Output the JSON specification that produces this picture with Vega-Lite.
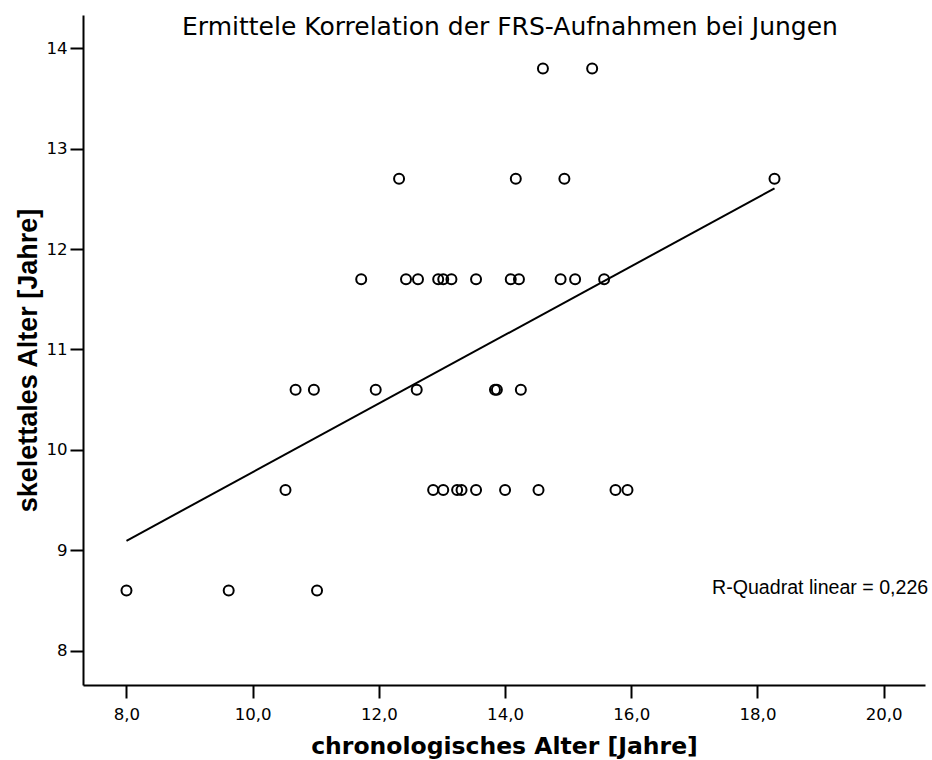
{
  "$schema": "https://vega.github.io/schema/vega-lite/v6.json",
  "autosize": "none",
  "width": 842,
  "height": 670,
  "padding": {"left": 83, "top": 15, "right": 7, "bottom": 75},
  "background": "white",
  "title": {
    "text": "Ermittele Korrelation der FRS-Aufnahmen bei Jungen",
    "font": "DejaVu Sans",
    "fontSize": 25,
    "fontWeight": "normal",
    "color": "black",
    "anchor": "middle",
    "offset": -25,
    "dx": 6
  },
  "data": {
    "values": [
      {"chronologisches_Alter": 14.60, "skelettales_Alter": 13.8},
      {"chronologisches_Alter": 15.38, "skelettales_Alter": 13.8},
      {"chronologisches_Alter": 12.32, "skelettales_Alter": 12.7},
      {"chronologisches_Alter": 14.17, "skelettales_Alter": 12.7},
      {"chronologisches_Alter": 14.94, "skelettales_Alter": 12.7},
      {"chronologisches_Alter": 18.27, "skelettales_Alter": 12.7},
      {"chronologisches_Alter": 11.72, "skelettales_Alter": 11.7},
      {"chronologisches_Alter": 12.43, "skelettales_Alter": 11.7},
      {"chronologisches_Alter": 12.62, "skelettales_Alter": 11.7},
      {"chronologisches_Alter": 12.94, "skelettales_Alter": 11.7},
      {"chronologisches_Alter": 13.02, "skelettales_Alter": 11.7},
      {"chronologisches_Alter": 13.15, "skelettales_Alter": 11.7},
      {"chronologisches_Alter": 13.54, "skelettales_Alter": 11.7},
      {"chronologisches_Alter": 14.09, "skelettales_Alter": 11.7},
      {"chronologisches_Alter": 14.22, "skelettales_Alter": 11.7},
      {"chronologisches_Alter": 14.88, "skelettales_Alter": 11.7},
      {"chronologisches_Alter": 15.11, "skelettales_Alter": 11.7},
      {"chronologisches_Alter": 15.57, "skelettales_Alter": 11.7},
      {"chronologisches_Alter": 10.68, "skelettales_Alter": 10.6},
      {"chronologisches_Alter": 10.97, "skelettales_Alter": 10.6},
      {"chronologisches_Alter": 11.95, "skelettales_Alter": 10.6},
      {"chronologisches_Alter": 12.60, "skelettales_Alter": 10.6},
      {"chronologisches_Alter": 13.84, "skelettales_Alter": 10.6},
      {"chronologisches_Alter": 13.87, "skelettales_Alter": 10.6},
      {"chronologisches_Alter": 14.25, "skelettales_Alter": 10.6},
      {"chronologisches_Alter": 10.52, "skelettales_Alter": 9.6},
      {"chronologisches_Alter": 12.86, "skelettales_Alter": 9.6},
      {"chronologisches_Alter": 13.02, "skelettales_Alter": 9.6},
      {"chronologisches_Alter": 13.24, "skelettales_Alter": 9.6},
      {"chronologisches_Alter": 13.31, "skelettales_Alter": 9.6},
      {"chronologisches_Alter": 13.54, "skelettales_Alter": 9.6},
      {"chronologisches_Alter": 14.00, "skelettales_Alter": 9.6},
      {"chronologisches_Alter": 14.53, "skelettales_Alter": 9.6},
      {"chronologisches_Alter": 15.75, "skelettales_Alter": 9.6},
      {"chronologisches_Alter": 15.94, "skelettales_Alter": 9.6},
      {"chronologisches_Alter": 8.00, "skelettales_Alter": 8.6},
      {"chronologisches_Alter": 9.62, "skelettales_Alter": 8.6},
      {"chronologisches_Alter": 11.02, "skelettales_Alter": 8.6}
    ]
  },
  "layer": [
    {
      "mark": {"type": "point", "shape": "circle", "filled": false, "size": 100, "stroke": "black", "strokeWidth": 2, "opacity": 1},
      "encoding": {
        "x": {
          "field": "chronologisches_Alter",
          "type": "quantitative",
          "scale": {"domain": [7.311, 20.655], "nice": false, "zero": false},
          "axis": {
            "title": "chronologisches Alter [Jahre]",
            "values": [8, 10, 12, 14, 16, 18, 20],
            "labelExpr": "replace(format(datum.value, '.1f'), '.', ',')",
            "labelPadding": 8,
            "titleFont": "DejaVu Sans",
            "titleFontSize": 23.5,
            "titlePadding": 12
          }
        },
        "y": {
          "field": "skelettales_Alter",
          "type": "quantitative",
          "scale": {"domain": [7.658, 14.332], "nice": false, "zero": false},
          "axis": {
            "title": "skelettales Alter [Jahre]",
            "values": [8, 9, 10, 11, 12, 13, 14],
            "format": "d",
            "labelPadding": 3,
            "titleFont": "Liberation Sans",
            "titleFontSize": 27,
            "titleX": -41,
            "titleY": 345
          }
        }
      }
    },
    {
      "transform": [{"regression": "skelettales_Alter", "on": "chronologisches_Alter"}],
      "mark": {"type": "line", "color": "black", "strokeWidth": 2},
      "encoding": {
        "x": {"field": "chronologisches_Alter", "type": "quantitative"},
        "y": {"field": "skelettales_Alter", "type": "quantitative"}
      }
    },
    {
      "data": {"values": [{"label": "R-Quadrat linear = 0,226"}]},
      "mark": {"type": "text", "align": "left", "baseline": "alphabetic", "font": "Liberation Sans", "fontSize": 19.6, "color": "black"},
      "encoding": {
        "x": {"datum": 17.28, "type": "quantitative"},
        "y": {"datum": 8.565, "type": "quantitative"},
        "text": {"field": "label"}
      }
    }
  ],
  "config": {
    "view": {"stroke": null},
    "axis": {
      "grid": false,
      "domainColor": "black",
      "domainWidth": 2,
      "tickColor": "black",
      "tickWidth": 2,
      "tickSize": 13,
      "labelColor": "black",
      "labelFont": "DejaVu Sans",
      "labelFontSize": 16.6,
      "labelFlush": false,
      "labelOverlap": false,
      "titleColor": "black",
      "titleFontWeight": "bold"
    }
  }
}
